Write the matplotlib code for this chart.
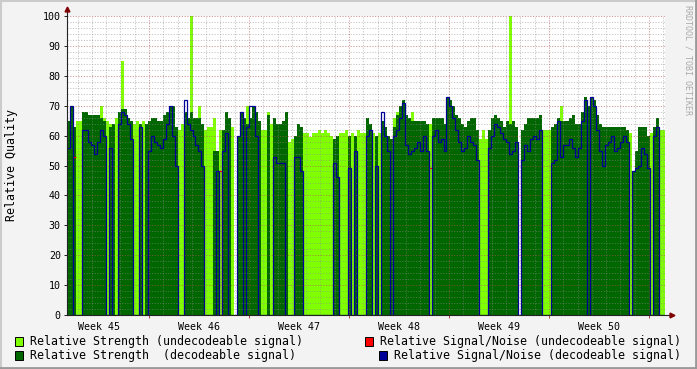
import numpy as np
import matplotlib
matplotlib.use("Agg")
import matplotlib.pyplot as plt
from matplotlib.patches import Rectangle
from matplotlib.lines import Line2D

plt.rcParams['font.family'] = 'DejaVu Sans Mono'

# ── Data: one sample every ~5 h, starting ~30 h into week 45 ──────────
week_labels = ["Week 45", "Week 46", "Week 47", "Week 48", "Week 49", "Week 50"]

# Relative Strength (undecodeable signal) – light green
undec_strength = [
    0, 0, 0, 65, 65, 0, 0, 0, 0, 0,
    0, 70, 66, 65, 64, 0, 66, 0, 85, 0,
    0, 0, 64, 65, 0, 65, 0, 0, 0, 0,
    0, 0, 0, 0, 0, 0, 0, 62, 64, 0,
    0, 100, 0, 0, 70, 0, 62, 63, 63, 66,
    0, 62, 0, 0, 0, 63, 0, 0, 0, 0,
    70, 0, 0, 0, 0, 62, 62, 68, 64, 0,
    0, 0, 0, 0, 58, 59, 0, 0, 0, 61,
    61, 59.5, 61, 61, 62, 61, 62, 61, 60, 0,
    0, 61, 61, 62, 0, 61, 0, 62, 61, 61,
    0, 0, 61, 0, 61, 0, 0, 0, 0, 66,
    68, 0, 0, 0, 0, 68, 0, 0, 0, 0,
    0, 64, 0, 0, 0, 0, 0, 0, 0, 0,
    0, 0, 0, 0, 0, 0, 0, 0, 59, 62,
    59, 0, 0, 0, 0, 0, 0, 0, 100, 0,
    0, 0, 0, 0, 0, 0, 0, 0, 0, 62,
    62, 62, 0, 0, 0, 70, 0, 0, 0, 0,
    0, 0, 0, 0, 0, 0, 0, 0, 0, 0,
    0, 0, 0, 0, 0, 0, 0, 0, 61, 0,
    0, 0, 0, 0, 0, 61, 0, 0, 62, 62,
]

# Relative Strength (decodeable signal) – dark green
dec_strength = [
    65, 70, 63, 0, 0, 68, 68, 67, 67, 67,
    67, 66, 65, 0, 63, 64, 0, 68, 69, 69,
    66, 65, 0, 0, 64, 0, 64, 65, 66, 66,
    65, 65, 67, 68, 70, 70, 63, 0, 0, 68,
    66, 68, 66, 66, 66, 64, 0, 0, 0, 55,
    55, 0, 62, 68, 66, 0, 0, 60, 68, 66,
    64, 66, 70, 68, 65, 0, 0, 67, 0, 66,
    64, 64, 65, 68, 0, 0, 60, 64, 63, 0,
    0, 0, 0, 0, 0, 0, 0, 0, 0, 59,
    60, 0, 0, 0, 60, 0, 60, 0, 0, 0,
    66, 64, 0, 60, 0, 65, 63, 60, 59, 63,
    67, 70, 72, 67, 66, 65, 65, 65, 65, 65,
    64, 0, 66, 66, 66, 66, 64, 73, 72, 70,
    67, 66, 64, 63, 65, 66, 66, 62, 0, 0,
    0, 62, 66, 67, 66, 65, 63, 65, 64, 65,
    63, 0, 62, 64, 66, 66, 66, 66, 67, 0,
    0, 0, 63, 64, 66, 65, 65, 65, 66, 67,
    64, 64, 68, 73, 70, 73, 72, 67, 64, 63,
    63, 63, 63, 63, 63, 63, 63, 62, 0, 48,
    55, 63, 63, 63, 60, 0, 63, 66, 0, 0,
]

# Relative Signal/Noise (decodeable signal) – blue line
dec_snr = [
    56, 70, 0, 0, 0, 62, 62, 58, 57, 54,
    58, 62, 60, 0, 56, 0, 0, 64, 68, 67,
    64, 59, 0, 0, 63, 0, 0, 55, 60, 58,
    57, 56, 59, 64, 70, 60, 50, 0, 0, 72,
    64, 62, 60, 57, 55, 50, 0, 0, 0, 0,
    48, 0, 55, 61, 0, 0, 0, 60, 68, 0,
    63, 70, 70, 60, 0, 0, 0, 0, 0, 53,
    51, 51, 51, 0, 0, 0, 53, 53, 48, 0,
    0, 0, 0, 0, 0, 0, 0, 0, 0, 51,
    46, 0, 0, 0, 49, 0, 55, 0, 0, 0,
    60, 62, 0, 50, 0, 68, 60, 55, 0, 60,
    62, 66, 71, 57, 54, 55, 56, 58, 55, 60,
    55, 0, 60, 62, 58, 59, 55, 73, 70, 66,
    62, 58, 55, 56, 60, 58, 57, 52, 0, 0,
    0, 56, 60, 64, 63, 61, 59, 58, 54, 55,
    58, 0, 52, 57, 55, 59, 60, 59, 62, 0,
    0, 0, 51, 52, 65, 53, 57, 57, 59, 56,
    53, 56, 65, 72, 0, 73, 70, 62, 55, 50,
    57, 58, 60, 55, 56, 58, 60, 58, 0, 48,
    49, 50, 56, 54, 49, 0, 60, 63, 0, 0,
]

# Relative Signal/Noise (undecodeable signal) – red line, mostly unknown
undec_snr = [np.nan] * 200
undec_snr[2] = 53
undec_snr[51] = 48
undec_snr[52] = 0
undec_snr[121] = 49

START_H = 30.2   # hours after start of week 45
STEP_H = 5.02
WEEK_H = 168

LIGHT = '#80ff00'
DARK = '#006600'
BLUE = '#000099'
RED = '#ff0000'

W, H = 697, 369
fig = plt.figure(figsize=(W / 100, H / 100), dpi=100, facecolor='#f3f3f3')
ax = fig.add_axes([67 / W, (H - 315) / H, 598 / W, 299 / H])
ax.set_facecolor('white')

n = len(dec_strength)
edges = START_H + STEP_H * np.arange(n + 1)

ax.stairs(undec_strength, edges, fill=True, color=LIGHT, lw=0, zorder=1)
ax.stairs(dec_strength, edges, fill=True, color=DARK, lw=0, zorder=2)

x0, x1 = START_H, START_H + 598 / (500 / (5 * WEEK_H))
ax.set_xlim(x0, x1)
ax.set_ylim(0, 100)

# grid (drawn over the areas, like rrdtool)
days = np.arange(24, x1, 24)
weeks = np.arange(WEEK_H, x1, WEEK_H)
ax.vlines([d for d in days if d % WEEK_H], 0, 100, colors='#8c8c8c', alpha=0.5,
          lw=0.7, linestyles=(0, (1.2, 1.6)), zorder=3)
ax.hlines([v for v in range(2, 101, 2) if v % 10], x0, x1, colors='#8c8c8c',
          alpha=0.5, lw=0.7, linestyles=(0, (1.2, 1.6)), zorder=3)
ax.vlines(weeks, 0, 100, colors='#b05050', alpha=0.6, lw=0.7,
          linestyles=(0, (1.2, 1.6)), zorder=3)
ax.hlines(range(10, 101, 10), x0, x1, colors='#b05050', alpha=0.6, lw=0.7,
          linestyles=(0, (1.2, 1.6)), zorder=3)

ax.stairs(undec_snr, edges, color=RED, lw=0.9, baseline=None, zorder=4)
ax.stairs(dec_snr, edges, color=BLUE, lw=0.9, baseline=None, zorder=5)

for s in ax.spines.values():
    s.set_visible(False)

# axes with arrows
ax.plot([0, 0], [0, 1.025], transform=ax.transAxes, color='#222222', lw=0.8,
        clip_on=False, zorder=6)
ax.plot([0, 1.01], [0, 0], transform=ax.transAxes, color='#222222', lw=0.8,
        clip_on=False, zorder=6)
ax.plot(0, 1.025, marker='^', ms=3.5, color='#800000', transform=ax.transAxes,
        clip_on=False, zorder=7)
ax.plot(1.012, 0, marker='>', ms=3.5, color='#800000', transform=ax.transAxes,
        clip_on=False, zorder=7)

ax.set_yticks(range(0, 101, 10))
ax.tick_params(axis='y', length=2.5, width=0.7, color='#222222', pad=2,
               labelsize=7.2)
ax.set_xticks(weeks, minor=True)
ax.set_xticks(WEEK_H / 2 + WEEK_H * np.arange(len(week_labels)))
ax.set_xticklabels(week_labels)
ax.tick_params(axis='x', which='major', length=0, pad=5, labelsize=7.2)
ax.tick_params(axis='x', which='minor', length=2.5, width=0.7, color='#a04040')

fig.text(12 / W, 1 - 165 / H, 'Relative Quality', rotation=90, ha='center',
         va='center', fontsize=8.35)
fig.text(688 / W, 1 - 5 / H, 'RRDTOOL / TOBI OETIKER', rotation=270,
         ha='center', va='top', fontsize=6.0, color='#aaaaaa')

# legend
def legend_item(px, py, color, label):
    fig.patches.append(Rectangle((px / W, 1 - (py + 4.5) / H), 8 / W, 8.5 / H,
                                 transform=fig.transFigure, facecolor=color,
                                 edgecolor='black', lw=0.7))
    fig.text((px + 15) / W, 1 - py / H, label, ha='left', va='center',
             fontsize=8.36)

legend_item(15, 341, LIGHT, 'Relative Strength (undecodeable signal)')
legend_item(15, 355, DARK, 'Relative Strength  (decodeable signal)')
legend_item(365, 341, RED, 'Relative Signal/Noise (undecodeable signal)')
legend_item(379, 355, BLUE, 'Relative Signal/Noise (decodeable signal)')

# 3D-ish frame of rrdtool canvas
fig.lines.append(Line2D([0, 1], [1 - 1 / H] * 2, transform=fig.transFigure,
                        color='#cbcbcb', lw=1.5))
fig.lines.append(Line2D([1 / W] * 2, [0, 1], transform=fig.transFigure,
                        color='#cbcbcb', lw=1.5))
fig.lines.append(Line2D([0, 1], [1.5 / H] * 2, transform=fig.transFigure,
                        color='#999999', lw=2))
fig.lines.append(Line2D([1 - 1.5 / W] * 2, [0, 1], transform=fig.transFigure,
                        color='#999999', lw=2))

fig.savefig('out.png', dpi=100, facecolor=fig.get_facecolor())
